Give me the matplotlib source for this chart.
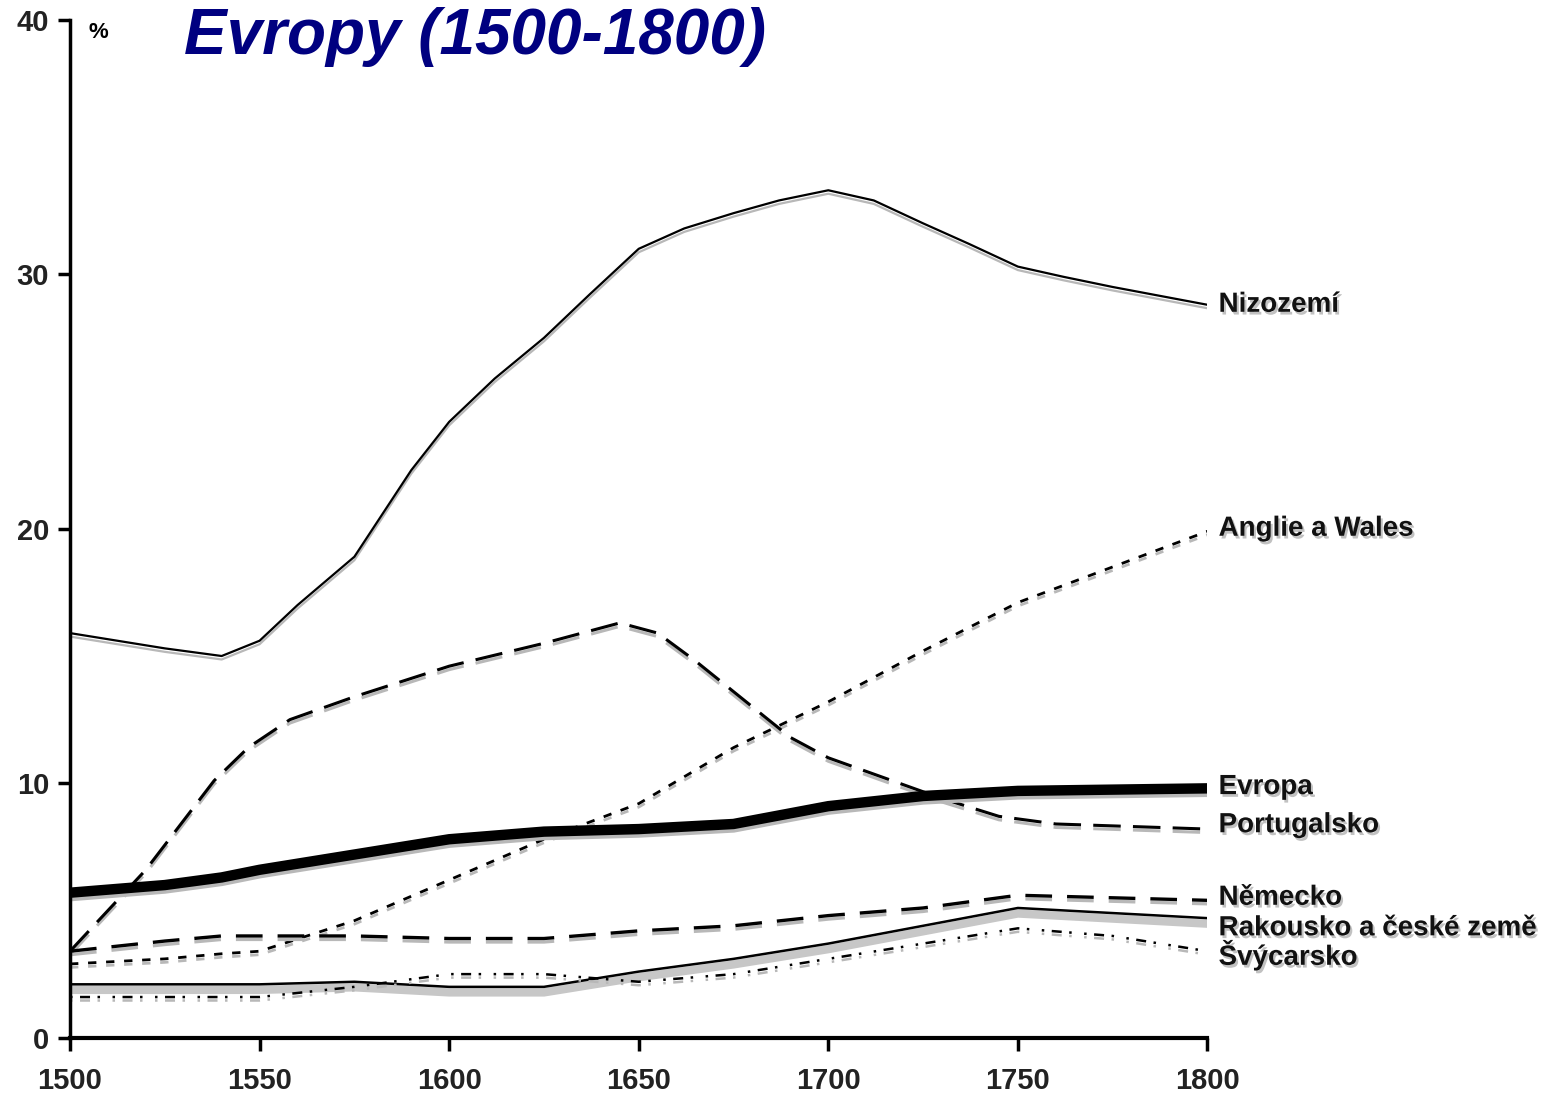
import numpy as np
import matplotlib
matplotlib.use("Agg")
import matplotlib.pyplot as plt
import matplotlib.patheffects as pe

# share of urban population (%)
years = [1500, 1525, 1540, 1550, 1575, 1600, 1625, 1650, 1675, 1700, 1725, 1750, 1775, 1800]

years_niz = [1500, 1525, 1540, 1550, 1560, 1575, 1590, 1600, 1612, 1625, 1637, 1650,
             1662, 1675, 1687, 1700, 1712, 1725, 1737, 1750, 1762, 1775, 1800]
nizozemi = [15.9, 15.3, 15.0, 15.6, 17.0, 18.9, 22.3, 24.2, 25.9, 27.5, 29.2, 31.0,
            31.8, 32.4, 32.9, 33.3, 32.9, 32.0, 31.2, 30.3, 29.9, 29.5, 28.8]

years_por = [1500, 1520, 1538, 1547, 1558, 1575, 1600, 1625, 1645, 1655, 1665,
             1680, 1690, 1700, 1715, 1730, 1745, 1760, 1800]
portugalsko = [3.4, 6.6, 10.1, 11.4, 12.5, 13.4, 14.6, 15.5, 16.3, 15.9, 14.8,
               13.0, 11.8, 11.0, 10.2, 9.4, 8.7, 8.4, 8.2]

anglie = [2.9, 3.1, 3.3, 3.4, 4.6, 6.2, 7.8, 9.2, 11.4, 13.2, 15.2, 17.1, 18.5, 19.9]
evropa = [5.7, 6.0, 6.3, 6.6, 7.2, 7.8, 8.1, 8.2, 8.4, 9.1, 9.5, 9.7, 9.75, 9.8]
nemecko = [3.4, 3.8, 4.0, 4.0, 4.0, 3.9, 3.9, 4.2, 4.4, 4.8, 5.1, 5.6, 5.5, 5.4]
rakousko = [2.1, 2.1, 2.1, 2.1, 2.2, 2.0, 2.0, 2.6, 3.1, 3.7, 4.4, 5.1, 4.9, 4.7]
svycarsko = [1.6, 1.6, 1.6, 1.6, 2.0, 2.5, 2.5, 2.2, 2.5, 3.1, 3.7, 4.3, 4.0, 3.4]

names = ["Nizozemí", "Anglie a Wales", "Evropa", "Portugalsko",
         "Německo", "Rakousko a české země", "Švýcarsko"]
label_y = [28.8, 20.0, 9.85, 8.35, 5.5, 4.3, 3.25]

fig = plt.figure(figsize=(15.56, 10.97), dpi=100)
ax = fig.add_axes([0.045, 0.054, 0.731, 0.928])

shadow = [pe.SimpleLineShadow(offset=(0, -2.5), shadow_color="0.72", alpha=1), pe.Normal()]

ax.plot(years_niz, nizozemi, color="black", lw=1.6, path_effects=shadow)
ax.plot(years, anglie, color="black", lw=2.0, linestyle=(0, (3, 3.5)), path_effects=shadow)
ax.plot(years_por, portugalsko, color="black", lw=2.2, linestyle=(0, (9, 4)), path_effects=shadow)
ax.plot(years, evropa, color="black", lw=7.5, solid_capstyle="butt", path_effects=shadow)
ax.plot(years, nemecko, color="black", lw=2.4, linestyle=(0, (8, 4.5)), path_effects=shadow)
ax.plot(years, rakousko, color="black", lw=1.8,
        path_effects=[pe.SimpleLineShadow(offset=(0, -4), shadow_color="0.78", alpha=1, linewidth=6), pe.Normal()])
ax.plot(years, svycarsko, color="black", lw=1.8, linestyle=(0, (1, 3, 4, 3, 1, 5)), path_effects=shadow)

for name, yv in zip(names, label_y):
    ax.annotate(name, xy=(1800, yv), xytext=(8, 0), textcoords="offset points",
                va="center", ha="left", fontsize=20, fontweight="bold",
                family="Liberation Sans", color="#111111", annotation_clip=False,
                path_effects=[pe.withSimplePatchShadow(offset=(1.5, -2), shadow_rgbFace="0.6", alpha=0.6)])

ax.set_xlim(1500, 1800)
ax.set_ylim(0, 40)
ax.set_xticks(np.arange(1500, 1801, 50))
ax.set_yticks([0, 10, 20, 30, 40])
ax.tick_params(axis="both", direction="out", length=9, width=2.5, labelsize=21)
ax.tick_params(axis="x", pad=12)
ax.tick_params(axis="y", pad=6)
for lab in ax.get_xticklabels() + ax.get_yticklabels():
    lab.set_fontweight("bold")
    lab.set_family("Liberation Sans")
    lab.set_color("#222222")
ax.spines["top"].set_visible(False)
ax.spines["right"].set_visible(False)
ax.spines["left"].set_linewidth(2.5)
ax.spines["bottom"].set_linewidth(3)

ax.text(0.016, 0.998, "%", transform=ax.transAxes, fontsize=16, fontweight="bold",
        family="Liberation Sans", va="top", ha="left")

fig.text(0.118, 0.966, "Evropy (1500-1800)", fontsize=46, fontweight="bold",
         style="italic", color="#000080", family="Liberation Sans", va="center", ha="left")

fig.savefig("out.png", dpi=100)
